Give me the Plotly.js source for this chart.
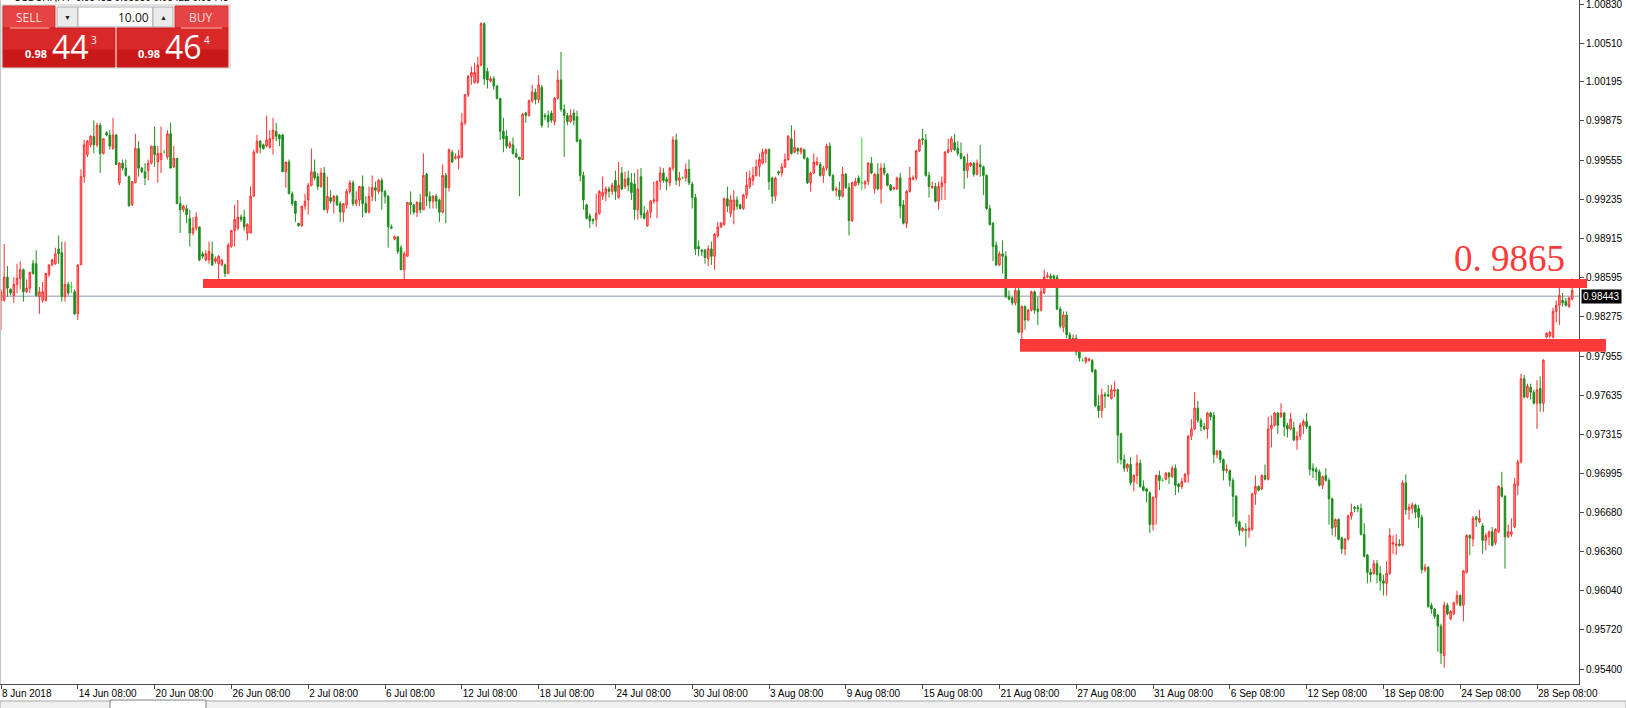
<!DOCTYPE html>
<html><head><meta charset="utf-8">
<script src="https://cdn.plot.ly/plotly-3.0.1.min.js"></script>
<style>html,body{margin:0;padding:0;background:#fff;overflow:hidden}#chart{width:1626px;height:708px}</style>
</head><body><div id="chart"></div>
<script>
// USDCHF H4 candles (bar 0 = 8 Jun 2018 08:00)
const open = [
.9841,.9841,.9860,.9850,.9845,.9854,.9859,.9866,.9848,.9851,
.9871,.9871,.9844,.9841,.9841,.9862,.9870,.9871,.9883,.9880,
.9844,.9854,.9852,.9848,.9830,.9870,.9942,.9960,.9968,.9975,
.9968,.9984,.9961,.9978,.9976,.9965,.9976,.9937,.9953,.9949,
.9942,.9919,.9937,.9965,.9949,.9946,.9947,.9953,.9967,.9954,
.9956,.9962,.9958,.9977,.9950,.9957,.9920,.9915,.9916,.9908,
.9896,.9900,.9901,.9879,.9874,.9874,.9879,.9873,.9871,.9870,
.9870,.9863,.9885,.9898,.9900,.9909,.9909,.9896,.9896,.9926,
.9962,.9971,.9968,.9967,.9966,.9973,.9979,.9976,.9976,.9946,
.9954,.9928,.9922,.9904,.9902,.9918,.9923,.9935,.9946,.9942,
.9934,.9945,.9915,.9925,.9922,.9926,.9920,.9913,.9919,.9930,
.9937,.9920,.9923,.9934,.9920,.9913,.9926,.9933,.9930,.9939,
.9930,.9926,.9901,.9891,.9893,.9884,.9866,.9877,.9921,.9919,
.9913,.9921,.9915,.9944,.9926,.9922,.9926,.9923,.9913,.9943,
.9933,.9962,.9957,.9957,.9958,.9986,1.0009,1.0024,1.0019,1.0019,
1.0033,1.0067,1.0028,1.0020,1.0022,1.0016,1.0006,.9979,.9975,.9966,
.9968,.9961,.9958,.9956,.9994,.9992,1.0004,1.0011,1.0005,1.0015,
.9992,.9992,.9994,.9987,1.0006,1.0021,.9997,.9992,.9987,.9994,
.9991,.9972,.9943,.9919,.9910,.9907,.9907,.9912,.9926,.9928,
.9932,.9930,.9939,.9925,.9945,.9934,.9941,.9937,.9936,.9915,
.9942,.9912,.9902,.9913,.9922,.9922,.9938,.9945,.9940,.9937,
.9949,.9972,.9939,.9941,.9941,.9948,.9936,.9925,.9885,.9882,
.9882,.9875,.9883,.9877,.9894,.9901,.9903,.9924,.9912,.9915,
.9923,.9919,.9916,.9927,.9934,.9939,.9943,.9950,.9953,.9961,
.9964,.9941,.9926,.9946,.9945,.9950,.9956,.9973,.9962,.9965,
.9962,.9964,.9957,.9937,.9945,.9952,.9952,.9943,.9949,.9967,
.9943,.9931,.9931,.9926,.9944,.9933,.9906,.9935,.9941,.9937,
.9936,.9938,.9953,.9932,.9944,.9932,.9949,.9944,.9935,.9932,
.9932,.9941,.9919,.9904,.9930,.9940,.9941,.9963,.9973,.9972,
.9943,.9933,.9934,.9922,.9934,.9937,.9962,.9964,.9970,.9965,
.9961,.9958,.9947,.9951,.9953,.9944,.9952,.9950,.9943,.9916,
.9904,.9886,.9870,.9879,.9877,.9844,.9843,.9839,.9849,.9815,
.9836,.9825,.9833,.9848,.9834,.9833,.9847,.9860,.9861,.9861,
.9860,.9834,.9819,.9829,.9813,.9805,.9810,.9799,.9792,.9791,
.9792,.9792,.9784,.9755,.9751,.9764,.9764,.9761,.9767,.9768,
.9732,.9711,.9704,.9707,.9693,.9698,.9708,.9689,.9687,.9684,
.9658,.9680,.9698,.9694,.9695,.9700,.9697,.9704,.9691,.9689,
.9693,.9699,.9730,.9736,.9753,.9743,.9738,.9736,.9749,.9747,
.9715,.9718,.9711,.9702,.9702,.9694,.9681,.9660,.9653,.9654,
.9653,.9654,.9683,.9689,.9687,.9698,.9695,.9736,.9739,.9749,
.9746,.9749,.9739,.9736,.9737,.9727,.9730,.9739,.9742,.9738,
.9704,.9703,.9701,.9690,.9698,.9694,.9679,.9656,.9662,.9647,
.9638,.9646,.9665,.9672,.9672,.9671,.9650,.9633,.9619,.9618,
.9626,.9618,.9612,.9610,.9618,.9642,.9641,.9642,.9641,.9692,
.9670,.9671,.9674,.9671,.9664,.9621,.9623,.9592,.9589,.9584,
.9575,.9551,.9592,.9581,.9585,.9594,.9600,.9592,.9619,.9649,
.9646,.9664,.9660,.9657,.9645,.9648,.9652,.9643,.9652,.9688,
.9681,.9648,.9650,.9656,.9690,.9709,.9777,.9762,.9770,.9766,
.9757,.9769,.9757,.9811,.9812,.9811,.9832,.9837,.9841,.9840,
.9836,.9842];
const high = [
.9850,.9887,.9869,.9851,.9860,.9871,.9873,.9867,.9858,.9864,
.9874,.9882,.9852,.9856,.9863,.9870,.9875,.9884,.9894,.9889,
.9889,.9856,.9856,.9850,.9870,.9948,.9972,.9972,.9976,.9988,
.9986,.9986,.9973,.9979,.9980,.9990,.9977,.9954,.9956,.9956,
.9943,.9938,.9977,.9971,.9950,.9953,.9956,.9967,.9983,.9967,
.9983,.9964,.9980,.9986,.9967,.9957,.9926,.9919,.9919,.9915,
.9909,.9913,.9901,.9881,.9882,.9889,.9889,.9877,.9878,.9875,
.9871,.9888,.9898,.9919,.9923,.9911,.9915,.9904,.9934,.9964,
.9976,.9972,.9969,.9992,.9980,.9990,.9986,.9977,.9977,.9954,
.9956,.9930,.9922,.9904,.9918,.9928,.9937,.9965,.9956,.9945,
.9949,.9950,.9942,.9931,.9927,.9927,.9922,.9920,.9932,.9939,
.9939,.9930,.9934,.9943,.9926,.9934,.9943,.9938,.9940,.9941,
.9931,.9927,.9903,.9894,.9893,.9886,.9881,.9921,.9930,.9920,
.9922,.9928,.9961,.9945,.9930,.9927,.9928,.9924,.9952,.9945,
.9965,.9964,.9961,.9964,.9994,1.0009,1.0025,1.0032,1.0035,1.0040,
1.0068,1.0068,1.0031,1.0024,1.0024,1.0017,1.0006,.9990,.9980,.9971,
.9974,.9965,.9958,.9994,.9995,1.0005,1.0017,1.0014,1.0025,1.0017,
.9994,.9996,.9996,1.0007,1.0029,1.0044,1.0001,.9994,.9997,.9997,
.9996,.9973,.9946,.9920,.9912,.9908,.9928,.9931,.9942,.9934,
.9934,.9937,.9947,.9954,.9950,.9946,.9947,.9945,.9945,.9948,
.9949,.9918,.9915,.9923,.9938,.9939,.9950,.9949,.9942,.9950,
.9975,.9977,.9946,.9942,.9953,.9956,.9938,.9928,.9890,.9883,
.9883,.9886,.9889,.9896,.9905,.9905,.9925,.9934,.9927,.9931,
.9926,.9920,.9928,.9946,.9947,.9950,.9956,.9961,.9965,.9965,
.9965,.9942,.9942,.9947,.9953,.9961,.9976,.9984,.9980,.9966,
.9966,.9965,.9958,.9946,.9961,.9958,.9954,.9951,.9969,.9970,
.9944,.9934,.9938,.9950,.9945,.9937,.9938,.9941,.9943,.9974,
.9939,.9954,.9958,.9945,.9953,.9953,.9953,.9945,.9936,.9934,
.9942,.9945,.9923,.9931,.9950,.9943,.9964,.9973,.9981,.9977,
.9946,.9938,.9937,.9938,.9942,.9963,.9973,.9975,.9977,.9971,
.9970,.9959,.9961,.9954,.9954,.9956,.9968,.9951,.9944,.9919,
.9905,.9889,.9881,.9890,.9881,.9849,.9844,.9851,.9851,.9837,
.9837,.9834,.9849,.9849,.9844,.9852,.9866,.9864,.9863,.9862,
.9862,.9836,.9832,.9832,.9815,.9813,.9813,.9801,.9794,.9795,
.9794,.9793,.9785,.9764,.9769,.9766,.9772,.9772,.9775,.9769,
.9733,.9715,.9708,.9713,.9699,.9715,.9711,.9694,.9688,.9685,
.9681,.9699,.9702,.9696,.9701,.9701,.9706,.9707,.9692,.9696,
.9700,.9731,.9744,.9766,.9759,.9745,.9741,.9750,.9750,.9750,
.9719,.9719,.9712,.9707,.9703,.9696,.9682,.9661,.9656,.9659,
.9666,.9684,.9698,.9690,.9699,.9707,.9746,.9747,.9750,.9750,
.9757,.9750,.9741,.9749,.9742,.9734,.9741,.9744,.9749,.9739,
.9708,.9705,.9703,.9698,.9704,.9696,.9680,.9663,.9663,.9648,
.9647,.9666,.9675,.9673,.9674,.9675,.9659,.9634,.9622,.9629,
.9629,.9624,.9617,.9628,.9655,.9649,.9650,.9646,.9694,.9699,
.9675,.9676,.9675,.9674,.9666,.9626,.9624,.9594,.9590,.9585,
.9577,.9595,.9594,.9588,.9595,.9604,.9601,.9621,.9650,.9650,
.9665,.9665,.9670,.9659,.9651,.9653,.9656,.9655,.9690,.9701,
.9682,.9658,.9663,.9696,.9711,.9781,.9780,.9773,.9773,.9768,
.9776,.9779,.9793,.9815,.9816,.9835,.9841,.9855,.9847,.9843,
.9844,.9859];
const low = [
.9817,.9840,.9844,.9845,.9839,.9847,.9850,.9840,.9847,.9847,
.9862,.9844,.9830,.9839,.9840,.9860,.9869,.9870,.9871,.9840,
.9840,.9845,.9847,.9829,.9825,.9870,.9937,.9958,.9966,.9961,
.9966,.9945,.9960,.9975,.9964,.9964,.9952,.9935,.9947,.9942,
.9918,.9918,.9937,.9942,.9945,.9935,.9939,.9952,.9950,.9937,
.9945,.9961,.9956,.9949,.9949,.9920,.9896,.9913,.9904,.9885,
.9894,.9898,.9873,.9875,.9873,.9871,.9869,.9871,.9858,.9869,
.9860,.9863,.9884,.9885,.9898,.9905,.9898,.9890,.9896,.9926,
.9961,.9961,.9964,.9966,.9965,.9960,.9971,.9967,.9946,.9933,
.9928,.9918,.9905,.9901,.9901,.9915,.9911,.9934,.9939,.9931,
.9933,.9915,.9912,.9920,.9912,.9918,.9905,.9905,.9916,.9928,
.9918,.9918,.9918,.9909,.9912,.9912,.9922,.9922,.9928,.9915,
.9920,.9884,.9899,.9890,.9879,.9866,.9858,.9877,.9911,.9911,
.9909,.9912,.9915,.9918,.9916,.9916,.9916,.9905,.9912,.9904,
.9930,.9953,.9956,.9948,.9957,.9984,1.0007,1.0017,1.0018,1.0018,
1.0032,1.0017,1.0014,1.0019,1.0013,1.0005,.9972,.9962,.9965,.9965,
.9960,.9957,.9926,.9956,.9986,.9991,1.0002,1.0001,1.0002,.9982,
.9988,.9982,.9986,.9984,1.0005,.9995,.9958,.9984,.9986,.9984,
.9970,.9938,.9915,.9907,.9900,.9903,.9901,.9911,.9923,.9922,
.9925,.9927,.9923,.9924,.9931,.9932,.9930,.9923,.9907,.9907,
.9908,.9907,.9901,.9908,.9920,.9908,.9931,.9937,.9931,.9934,
.9947,.9935,.9934,.9940,.9938,.9935,.9916,.9878,.9877,.9877,
.9871,.9869,.9870,.9866,.9892,.9900,.9902,.9913,.9909,.9903,
.9915,.9915,.9915,.9924,.9932,.9935,.9942,.9942,.9952,.9953,
.9931,.9920,.9922,.9943,.9942,.9949,.9955,.9960,.9961,.9960,
.9960,.9956,.9936,.9930,.9944,.9951,.9942,.9937,.9947,.9942,
.9930,.9926,.9923,.9925,.9932,.9894,.9905,.9934,.9935,.9931,
.9932,.9935,.9944,.9928,.9931,.9920,.9943,.9934,.9930,.9931,
.9931,.9908,.9903,.9900,.9929,.9939,.9939,.9962,.9968,.9942,
.9925,.9932,.9921,.9915,.9923,.9923,.9961,.9962,.9963,.9959,
.9956,.9932,.9941,.9950,.9942,.9943,.9942,.9927,.9915,.9902,
.9873,.9869,.9869,.9863,.9843,.9841,.9837,.9837,.9814,.9809,
.9817,.9824,.9832,.9830,.9821,.9832,.9846,.9859,.9858,.9858,
.9833,.9818,.9815,.9810,.9801,.9802,.9796,.9791,.9791,.9789,
.9791,.9782,.9754,.9745,.9745,.9753,.9762,.9760,.9762,.9708,
.9707,.9701,.9701,.9690,.9685,.9691,.9688,.9685,.9676,.9651,
.9653,.9658,.9686,.9693,.9694,.9691,.9696,.9682,.9684,.9687,
.9692,.9692,.9727,.9735,.9741,.9734,.9735,.9728,.9743,.9708,
.9712,.9708,.9694,.9700,.9689,.9664,.9656,.9649,.9652,.9640,
.9647,.9653,.9674,.9685,.9686,.9694,.9694,.9721,.9738,.9732,
.9745,.9730,.9729,.9735,.9726,.9719,.9727,.9732,.9736,.9698,
.9696,.9694,.9689,.9687,.9693,.9658,.9649,.9648,.9645,.9634,
.9633,.9645,.9662,.9668,.9668,.9649,.9631,.9610,.9611,.9617,
.9610,.9604,.9600,.9600,.9617,.9634,.9633,.9640,.9640,.9666,
.9662,.9667,.9663,.9655,.9618,.9619,.9590,.9585,.9581,.9554,
.9544,.9541,.9584,.9580,.9584,.9592,.9591,.9579,.9618,.9633,
.9640,.9656,.9659,.9634,.9637,.9641,.9640,.9641,.9651,.9680,
.9622,.9647,.9648,.9655,.9682,.9708,.9761,.9761,.9760,.9756,
.9736,.9750,.9750,.9810,.9810,.9810,.9823,.9821,.9836,.9836,
.9835,.9841];
const close = [
.9848,.9860,.9851,.9847,.9854,.9859,.9866,.9848,.9851,.9864,
.9863,.9845,.9848,.9848,.9863,.9870,.9874,.9879,.9879,.9844,
.9854,.9847,.9852,.9830,.9870,.9942,.9968,.9971,.9975,.9968,
.9984,.9961,.9973,.9976,.9967,.9976,.9952,.9953,.9949,.9943,
.9918,.9938,.9965,.9949,.9946,.9941,.9953,.9967,.9960,.9961,
.9961,.9962,.9977,.9949,.9957,.9920,.9915,.9918,.9911,.9896,
.9900,.9909,.9874,.9877,.9879,.9881,.9870,.9875,.9877,.9874,
.9863,.9886,.9898,.9907,.9909,.9907,.9901,.9903,.9926,.9962,
.9971,.9966,.9965,.9972,.9973,.9980,.9975,.9973,.9946,.9954,
.9928,.9920,.9912,.9902,.9918,.9922,.9935,.9946,.9941,.9934,
.9945,.9915,.9926,.9922,.9926,.9919,.9913,.9920,.9930,.9937,
.9920,.9923,.9934,.9920,.9913,.9926,.9933,.9931,.9939,.9930,
.9926,.9901,.9900,.9893,.9881,.9866,.9879,.9921,.9919,.9913,
.9921,.9915,.9943,.9926,.9922,.9926,.9922,.9913,.9943,.9933,
.9964,.9954,.9958,.9959,.9986,1.0009,1.0024,1.0027,1.0027,1.0033,
1.0067,1.0022,1.0021,1.0022,1.0016,1.0006,.9979,.9973,.9967,.9969,
.9961,.9958,.9956,.9993,.9992,1.0004,1.0011,1.0005,1.0017,.9984,
.9991,.9987,.9988,1.0006,1.0021,.9997,.9992,.9987,.9992,.9988,
.9971,.9943,.9923,.9908,.9906,.9906,.9912,.9930,.9929,.9932,
.9930,.9935,.9930,.9935,.9932,.9940,.9935,.9929,.9915,.9932,
.9911,.9908,.9913,.9922,.9923,.9938,.9945,.9939,.9938,.9949,
.9972,.9939,.9941,.9941,.9948,.9937,.9925,.9883,.9883,.9881,
.9876,.9883,.9877,.9895,.9901,.9904,.9924,.9918,.9923,.9923,
.9918,.9916,.9927,.9935,.9941,.9943,.9950,.9956,.9962,.9964,
.9938,.9926,.9941,.9945,.9950,.9956,.9975,.9961,.9966,.9963,
.9965,.9957,.9937,.9945,.9954,.9954,.9943,.9949,.9967,.9943,
.9931,.9932,.9926,.9944,.9933,.9906,.9937,.9938,.9937,.9937,
.9938,.9953,.9945,.9944,.9932,.9949,.9945,.9935,.9931,.9933,
.9941,.9918,.9904,.9930,.9941,.9941,.9963,.9972,.9972,.9943,
.9934,.9934,.9922,.9934,.9937,.9962,.9964,.9973,.9964,.9961,
.9957,.9947,.9953,.9953,.9944,.9953,.9950,.9943,.9916,.9903,
.9885,.9870,.9879,.9877,.9844,.9842,.9839,.9849,.9815,.9836,
.9825,.9833,.9848,.9833,.9832,.9848,.9860,.9861,.9859,.9859,
.9834,.9820,.9829,.9813,.9805,.9810,.9799,.9794,.9792,.9794,
.9793,.9783,.9755,.9751,.9764,.9763,.9763,.9768,.9768,.9731,
.9711,.9704,.9707,.9692,.9698,.9708,.9689,.9686,.9685,.9658,
.9680,.9698,.9694,.9694,.9700,.9697,.9704,.9690,.9689,.9693,
.9699,.9730,.9736,.9753,.9743,.9738,.9736,.9749,.9746,.9715,
.9718,.9711,.9702,.9703,.9694,.9681,.9659,.9653,.9655,.9653,
.9655,.9683,.9689,.9686,.9698,.9695,.9736,.9739,.9749,.9739,
.9749,.9738,.9736,.9744,.9727,.9730,.9739,.9742,.9738,.9703,
.9702,.9701,.9690,.9697,.9694,.9679,.9655,.9662,.9646,.9638,
.9646,.9665,.9668,.9671,.9671,.9650,.9632,.9619,.9617,.9626,
.9617,.9612,.9610,.9618,.9649,.9643,.9642,.9641,.9692,.9670,
.9672,.9674,.9668,.9664,.9621,.9623,.9591,.9589,.9583,.9575,
.9553,.9592,.9585,.9587,.9594,.9600,.9592,.9620,.9649,.9647,
.9663,.9662,.9663,.9645,.9649,.9652,.9641,.9654,.9689,.9681,
.9648,.9652,.9652,.9691,.9709,.9777,.9762,.9771,.9766,.9757,
.9768,.9757,.9792,.9814,.9815,.9832,.9837,.9845,.9839,.9837,
.9843,.9849];

const xLabels = ["8 Jun 2018","14 Jun 08:00","20 Jun 08:00","26 Jun 08:00","2 Jul 08:00","6 Jul 08:00",
  "12 Jul 08:00","18 Jul 08:00","24 Jul 08:00","30 Jul 08:00","3 Aug 08:00","9 Aug 08:00","15 Aug 08:00",
  "21 Aug 08:00","27 Aug 08:00","31 Aug 08:00","6 Sep 08:00","12 Sep 08:00","18 Sep 08:00","24 Sep 08:00","28 Sep 08:00"];
const barsPerLabel = 24;
const yTickVals = [1.00830,1.00510,1.00195,0.99875,0.99555,0.99235,0.98915,0.98595,0.98275,0.97955,
  0.97635,0.97315,0.96995,0.96680,0.96360,0.96040,0.95720,0.95400];
const bid = 0.98443;
const ask = 0.98464;
const lots = "10.00";
const symbolLine = "USDCHF,H4  0.98431 0.98530 0.98422 0.98443";
const zoneUpper = [0.98511, 0.98585];
const zoneLower = [0.97991, 0.98095];
const zoneText = "0. 9865";

// ---- geometry ----
const W = 1626, H = 708, ML = 0, MR = 47, MT = 0, MB = 24;
const PW = W - ML - MR, PH = H - MT - MB;
const X = px => (px - ML) / PW;          // pixel -> paper (x)
const Y = py => 1 - (py - MT) / PH;      // pixel -> paper (y)

const idx = close.map((_, i) => i);
const isDoji = i => open[i] === close[i];
const mainIdx = idx.filter(i => !isDoji(i));
const dojiIdx = idx.filter(isDoji);
const pick = (a, ids) => ids.map(i => a[i]);

const RED = '#ff2e2e', PINK = '#ff9d9d', GREEN = '#1e8e1e', LIME = '#22e022';

const traces = [
  {type:'candlestick', x: pick(idx, mainIdx), open: pick(open, mainIdx), high: pick(high, mainIdx),
   low: pick(low, mainIdx), close: pick(close, mainIdx), whiskerwidth: 0, hoverinfo: 'skip', showlegend:false,
   increasing:{line:{color:RED, width:1}, fillcolor:PINK},
   decreasing:{line:{color:GREEN, width:1}, fillcolor:GREEN}},
  {type:'candlestick', x: pick(idx, dojiIdx), open: pick(open, dojiIdx), high: pick(high, dojiIdx),
   low: pick(low, dojiIdx), close: pick(close, dojiIdx), whiskerwidth: 0, hoverinfo: 'skip', showlegend:false,
   increasing:{line:{color:LIME, width:1}, fillcolor:LIME},
   decreasing:{line:{color:LIME, width:1}, fillcolor:LIME}}
];

const tickIdx = xLabels.map((_, k) => k * barsPerLabel);
const barPx = 3.2;
const xMin = -1 / barPx, xMax = xMin + PW / barPx;
const yMin = 0.952775, yMax = 1.008627;

const shapes = [];
const annotations = [];
const rect = (x0, x1, y0, y1, fill, line) => shapes.push({type:'rect', xref:'paper', yref:'paper',
  x0:X(x0), x1:X(x1), y0:Y(y0), y1:Y(y1), fillcolor:fill, line:{color:line || fill, width:1}, layer:'above'});
const txt = (x, y, text, size, color, opts) => annotations.push(Object.assign({xref:'paper', yref:'paper',
  x:X(x), y:Y(y), text:text, showarrow:false, xanchor:'center', yanchor:'middle',
  font:{family:'Open Sans, sans-serif', size:size, color:color}}, opts || {}));

// bid line (below candles)
shapes.push({type:'line', xref:'paper', yref:'y', x0:0, x1:1, y0:bid, y1:bid,
  line:{color:'#b3bcc6', width:1.5}, layer:'below'});
// left window border
shapes.push({type:'line', xref:'paper', yref:'paper', x0:0.0003, x1:0.0003, y0:0, y1:1,
  line:{color:'#c4c4c4', width:1}, layer:'above'});
// drawn support/resistance zones
shapes.push({type:'rect', xref:'paper', yref:'y', x0:X(203), x1:X(1587), y0:zoneUpper[0], y1:zoneUpper[1],
  fillcolor:'#fd3a3a', line:{width:0}, layer:'above'});
shapes.push({type:'rect', xref:'paper', yref:'y', x0:X(1020), x1:X(1606), y0:zoneLower[0], y1:zoneLower[1],
  fillcolor:'#fd3a3a', line:{width:0}, layer:'above'});
annotations.push({xref:'paper', yref:'y', x:X(1452), y:zoneUpper[1] - 0.0002, xanchor:'left', yanchor:'bottom',
  text:zoneText, showarrow:false, font:{family:'Liberation Serif, serif', size:37, color:'#fd3a3a'}});

// bid price tag on the axis
annotations.push({xref:'paper', yref:'y', x:1, xshift:2, y:bid, xanchor:'left', yanchor:'middle',
  text:bid.toFixed(5), showarrow:false, bgcolor:'#000', borderpad:1,
  font:{family:'Liberation Sans, Arial, sans-serif', size:10, color:'#fff'}});

// symbol line at the very top (mostly outside the window, as in the screenshot)
annotations.push({xref:'paper', yref:'paper', x:X(12), y:Y(-2), xanchor:'left', yanchor:'middle',
  text:symbolLine, showarrow:false, font:{family:'Liberation Sans, Arial, sans-serif', size:10, color:'#000'}});

// one-click trading panel
rect(2, 230, 5, 68, '#ffffff', '#c6c6c6');
rect(3, 55, 6, 28, '#e64343', '#d23232');
rect(57, 78, 7, 27, '#ebebeb', '#adadad');
rect(78, 153, 7, 27, '#ffffff', '#adadad');
rect(153, 173, 7, 27, '#ebebeb', '#adadad');
rect(175, 228, 6, 28, '#e64343', '#d23232');
rect(3, 115, 28, 67, '#d82828', '#c41a1a');
rect(117, 228, 28, 67, '#d82828', '#c41a1a');
rect(4, 114, 50, 66, '#c91818', '#c91818');
rect(118, 227, 50, 66, '#c91818', '#c91818');
rect(10, 49, 27.5, 28.5, '#f07070', '#f07070');
rect(181, 222, 27.5, 28.5, '#f07070', '#f07070');
txt(29, 17, 'SELL', 12, '#ffdede');
txt(201, 17, 'BUY', 12, '#ffdede');
txt(67.5, 17, '▼', 7, '#222');
txt(163, 17, '▲', 7, '#222');
txt(151, 17, lots, 12, '#111', {xanchor:'right'});
const parts = v => { const s = v.toFixed(5); return [s.slice(0, 4), s.slice(4, 6), s.slice(6)]; };
const [bp, bb, bs] = parts(bid), [ap, ab, as] = parts(ask);
txt(36, 53.5, '<b>' + bp + '</b>', 11, '#fff');
txt(70, 46, bb, 32, '#fff');
txt(94, 40, bs, 10, '#fff');
txt(149, 53.5, '<b>' + ap + '</b>', 11, '#fff');
txt(183, 46, ab, 32, '#fff');
txt(207, 40, as, 10, '#fff');

// bottom tab strip
shapes.push({type:'rect', xref:'paper', yref:'paper', x0:X(0), x1:X(W), y0:Y(701), y1:Y(709),
  fillcolor:'#f0f0f0', line:{color:'#a8a8a8', width:1}, layer:'above'});
shapes.push({type:'rect', xref:'paper', yref:'paper', x0:X(110), x1:X(206), y0:Y(700), y1:Y(709),
  fillcolor:'#ffffff', line:{color:'#808080', width:1}, layer:'above'});

const layout = {
  width: W, height: H, margin:{l:ML, r:MR, t:MT, b:MB, pad:0},
  paper_bgcolor:'#ffffff', plot_bgcolor:'#ffffff', showlegend:false, dragmode:false,
  xaxis:{type:'linear', range:[xMin, xMax], rangeslider:{visible:false}, showgrid:false, zeroline:false,
    showline:true, linecolor:'#4a4a4a', linewidth:1, ticks:'outside', ticklen:4, tickcolor:'#4a4a4a',
    tickmode:'array', tickvals:tickIdx, ticktext:xLabels, ticklabelposition:'outside right',
    tickfont:{family:'Liberation Sans, Arial, sans-serif', size:10, color:'#000'}, fixedrange:true},
  yaxis:{side:'right', range:[yMin, yMax], showgrid:false, zeroline:false, showline:true,
    linecolor:'#4a4a4a', linewidth:1, ticks:'outside', ticklen:4, tickcolor:'#4a4a4a',
    tickmode:'array', tickvals:yTickVals, ticktext:yTickVals.map(v => v.toFixed(5)),
    ticklabeloverflow:'allow',
    tickfont:{family:'Liberation Sans, Arial, sans-serif', size:10, color:'#000'}, fixedrange:true},
  shapes: shapes, annotations: annotations
};
Plotly.newPlot('chart', traces, layout, {displayModeBar:false, staticPlot:true});
</script></body></html>
